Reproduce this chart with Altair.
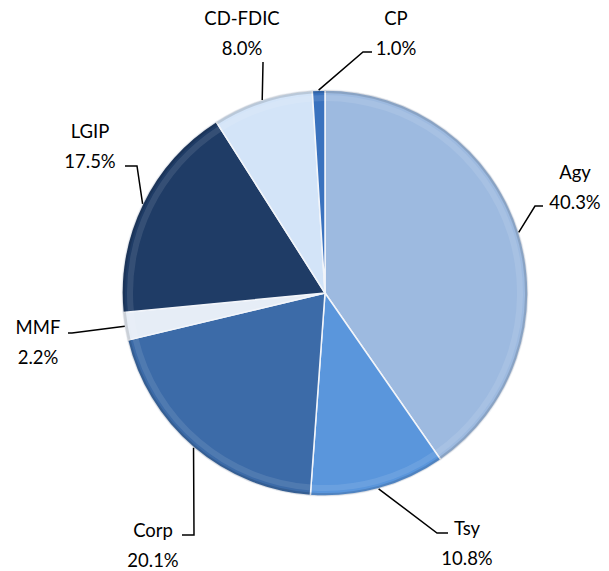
import altair as alt
import pandas as pd
import numpy as np

# ---- data ----
categories = ["Agy", "Tsy", "Corp", "MMF", "LGIP", "CD-FDIC", "CP"]
shares = [40.3, 10.8, 20.1, 2.2, 17.5, 8.0, 1.0]

# ---- style / layout ----
palette = ["#9DBAE0", "#5A96DC", "#3C6BA8", "#E6EDF6", "#1F3C66", "#D3E4F8", "#3A72BE"]
W, H = 593, 563
CX, CY, R = 317, 285, 203
FONT = "Lato"
FS = 18.5
LINE_GAP = 15
TEXT_DY = 2
# label block centre, relative to pie centre (px)
label_offset = {
    "Agy": (250, -107), "Tsy": (142, 249), "Corp": (-172, 251), "MMF": (-287, 48),
    "LGIP": (-235, -148), "CD-FDIC": (-83, -261), "CP": (71, -261),
}
# leader line stub points, relative to label block centre (px)
leader_stub = {
    "Agy": [(-32, 20), (-40, 20)], "Tsy": [(-19, -9), (-30, -9)],
    "Corp": [(29, -9), (41, -9)], "MMF": [(30, -8), (34, -8)],
    "LGIP": [(35, 21), (47, 21)], "CD-FDIC": [(21, 30), (21, 31)],
    "CP": [(-24, 20), (-33, 20)],
}

total = sum(shares)
starts = np.cumsum([0.0] + shares[:-1])
mids = (starts + np.array(shares) / 2) / total * 2 * np.pi

pie_df = pd.DataFrame({"cat": categories, "share": shares, "order": list(range(len(categories)))})

text_rows, line_rows = [], []
for c, v, a in zip(categories, shares, mids):
    dx, dy = label_offset[c]
    lx, ly = CX + dx, CY + dy
    text_rows.append({"x": lx, "y": ly - LINE_GAP + TEXT_DY, "t": c})
    text_rows.append({"x": lx, "y": ly + LINE_GAP + TEXT_DY, "t": f"{v:.1f}%"})
    pts = [(lx + sx, ly + sy) for sx, sy in leader_stub[c]]
    pts.append((CX + R * np.sin(a), CY - R * np.cos(a)))
    for i, (px, py) in enumerate(pts):
        line_rows.append({"cat": c, "i": i, "x": px, "y": py})

text_df = pd.DataFrame(text_rows)
line_df = pd.DataFrame(line_rows)

xs = alt.Scale(domain=[0, W], range=[0, W])
ys = alt.Scale(domain=[0, H], range=[0, H])

theta = alt.Theta("share:Q", stack=True)
order = alt.Order("order:Q")

pie = alt.Chart(pie_df).mark_arc(outerRadius=R, stroke="#F2F5FA", strokeWidth=1.5).encode(
    theta=theta, order=order,
    color=alt.Color("cat:N", scale=alt.Scale(domain=categories, range=palette), legend=None),
    x=alt.value(CX), y=alt.value(CY),
)

bevel = alt.Chart(pie_df).mark_arc(outerRadius=R - 5, innerRadius=R - 11, color="white", opacity=0.10).encode(
    theta=theta, order=order, x=alt.value(CX), y=alt.value(CY),
)

shade = alt.Chart(pie_df).mark_arc(outerRadius=R, innerRadius=R - 3, color="black", opacity=0.12).encode(
    theta=theta, order=order, x=alt.value(CX), y=alt.value(CY),
)

lines = alt.Chart(line_df).mark_line(color="black", strokeWidth=1.5).encode(
    x=alt.X("x:Q", scale=xs, axis=None),
    y=alt.Y("y:Q", scale=ys, axis=None),
    detail="cat:N",
    order="i:Q",
)

texts = alt.Chart(text_df).mark_text(font=FONT, fontSize=FS, color="black", align="center", baseline="middle").encode(
    x=alt.X("x:Q", scale=xs, axis=None),
    y=alt.Y("y:Q", scale=ys, axis=None),
    text="t:N",
)

chart = alt.layer(pie, bevel, shade, lines, texts).properties(
    width=W, height=H, padding=0, autosize=alt.AutoSizeParams(type="none")
).configure_view(stroke=None)

chart.save("out.html", embed_options={"renderer": "svg", "actions": False})
